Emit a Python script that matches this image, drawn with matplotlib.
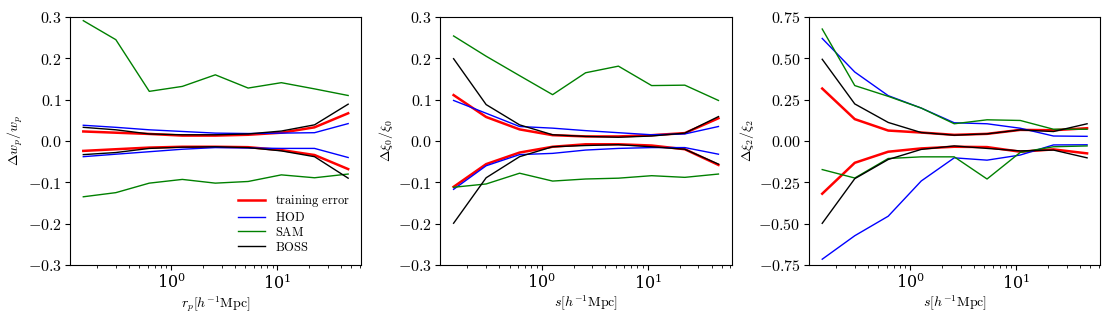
import matplotlib
matplotlib.use("Agg")
import matplotlib.pyplot as plt
from matplotlib.ticker import FuncFormatter

plt.rcParams["mathtext.fontset"] = "cm"
plt.rcParams["font.family"] = "serif"
plt.rcParams["font.serif"] = ["DejaVu Serif"]

# separation bins (h^-1 Mpc)
r = [0.148, 0.30, 0.62, 1.27, 2.6, 5.3, 10.9, 22.4, 46.5]

# panel 1: w_p
wp_train_hi = [0.023, 0.020, 0.017, 0.013, 0.013, 0.015, 0.020, 0.033, 0.067]
wp_train_lo = [-0.024, -0.020, -0.016, -0.014, -0.014, -0.015, -0.022, -0.034, -0.068]
wp_hod_hi = [0.038, 0.033, 0.027, 0.023, 0.019, 0.018, 0.019, 0.020, 0.042]
wp_hod_lo = [-0.038, -0.032, -0.026, -0.020, -0.016, -0.017, -0.018, -0.018, -0.040]
wp_sam_hi = [0.291, 0.245, 0.120, 0.132, 0.160, 0.128, 0.141, 0.126, 0.110]
wp_sam_lo = [-0.135, -0.125, -0.102, -0.093, -0.102, -0.098, -0.082, -0.089, -0.080]
wp_boss_hi = [0.033, 0.027, 0.017, 0.015, 0.015, 0.017, 0.024, 0.039, 0.089]
wp_boss_lo = [-0.033, -0.028, -0.018, -0.015, -0.014, -0.016, -0.024, -0.038, -0.090]

# panel 2: xi_0
x0_train_hi = [0.111, 0.058, 0.028, 0.014, 0.011, 0.011, 0.014, 0.019, 0.055]
x0_train_lo = [-0.111, -0.056, -0.028, -0.014, -0.008, -0.008, -0.011, -0.020, -0.058]
x0_hod_hi = [0.098, 0.067, 0.035, 0.031, 0.025, 0.020, 0.015, 0.017, 0.035]
x0_hod_lo = [-0.117, -0.060, -0.033, -0.030, -0.022, -0.018, -0.016, -0.016, -0.032]
x0_sam_hi = [0.254, 0.205, 0.158, 0.112, 0.165, 0.181, 0.134, 0.135, 0.098]
x0_sam_lo = [-0.112, -0.104, -0.078, -0.097, -0.092, -0.090, -0.084, -0.088, -0.080]
x0_boss_hi = [0.199, 0.088, 0.039, 0.015, 0.011, 0.009, 0.012, 0.019, 0.059]
x0_boss_lo = [-0.199, -0.089, -0.038, -0.014, -0.011, -0.009, -0.014, -0.020, -0.056]

# panel 3: xi_2
x2_train_hi = [0.317, 0.132, 0.063, 0.051, 0.037, 0.043, 0.067, 0.065, 0.077]
x2_train_lo = [-0.319, -0.132, -0.065, -0.045, -0.035, -0.037, -0.065, -0.051, -0.075]
x2_hod_hi = [0.620, 0.417, 0.274, 0.199, 0.110, 0.104, 0.077, 0.030, 0.028]
x2_hod_lo = [-0.715, -0.573, -0.455, -0.242, -0.102, -0.116, -0.085, -0.024, -0.023]
x2_sam_hi = [0.677, 0.335, 0.270, 0.199, 0.104, 0.128, 0.124, 0.071, 0.071]
x2_sam_lo = [-0.173, -0.224, -0.106, -0.096, -0.096, -0.230, -0.069, -0.035, -0.030]
x2_boss_hi = [0.494, 0.224, 0.112, 0.051, 0.035, 0.043, 0.067, 0.057, 0.104]
x2_boss_lo = [-0.498, -0.228, -0.112, -0.051, -0.030, -0.045, -0.060, -0.055, -0.102]

panels = [
    dict(train=(wp_train_hi, wp_train_lo), hod=(wp_hod_hi, wp_hod_lo),
         sam=(wp_sam_hi, wp_sam_lo), boss=(wp_boss_hi, wp_boss_lo),
         ylabel=r"$\Delta w_p/w_p$", xlabel=r"$r_p[h^{-1}\mathrm{Mpc}]$",
         ylim=0.3, yticks=[-0.3, -0.2, -0.1, 0.0, 0.1, 0.2, 0.3], fmt="{:.1f}"),
    dict(train=(x0_train_hi, x0_train_lo), hod=(x0_hod_hi, x0_hod_lo),
         sam=(x0_sam_hi, x0_sam_lo), boss=(x0_boss_hi, x0_boss_lo),
         ylabel=r"$\Delta\xi_0/\xi_0$", xlabel=r"$s[h^{-1}\mathrm{Mpc}]$",
         ylim=0.3, yticks=[-0.3, -0.2, -0.1, 0.0, 0.1, 0.2, 0.3], fmt="{:.1f}"),
    dict(train=(x2_train_hi, x2_train_lo), hod=(x2_hod_hi, x2_hod_lo),
         sam=(x2_sam_hi, x2_sam_lo), boss=(x2_boss_hi, x2_boss_lo),
         ylabel=r"$\Delta\xi_2/\xi_2$", xlabel=r"$s[h^{-1}\mathrm{Mpc}]$",
         ylim=0.75, yticks=[-0.75, -0.5, -0.25, 0.0, 0.25, 0.5, 0.75], fmt="{:.2f}"),
]

styles = [
    ("train", "red", 1.8, r"$\mathrm{training\ error}$"),
    ("hod", "blue", 1.0, r"$\mathrm{HOD}$"),
    ("sam", "green", 1.0, r"$\mathrm{SAM}$"),
    ("boss", "black", 1.0, r"$\mathrm{BOSS}$"),
]

fig = plt.figure(figsize=(11.12, 3.18), dpi=100)
lefts = [0.063, 0.396, 0.7275]

for i, p in enumerate(panels):
    ax = fig.add_axes([lefts[i], 0.1667, 0.262, 0.78])
    for key, color, lw, label in styles:
        hi, lo = p[key]
        ax.plot(r, hi, color=color, lw=lw, label=label)
        ax.plot(r, lo, color=color, lw=lw)
    ax.set_xscale("log")
    ax.set_ylim(-p["ylim"], p["ylim"])
    ax.set_yticks(p["yticks"])
    fmt = p["fmt"]
    ax.yaxis.set_major_formatter(FuncFormatter(lambda v, pos, f=fmt: "$" + f.format(v) + "$"))
    ax.tick_params(labelsize=11.5, pad=2.5)
    ax.set_ylabel(p["ylabel"], fontsize=10, labelpad=2)
    ax.set_xlabel(p["xlabel"], fontsize=10, labelpad=1)
    if i == 0:
        ax.legend(loc="lower right", frameon=False, fontsize=9, handlelength=2.2,
                  labelspacing=0.15, borderaxespad=0.5)

fig.savefig("out.png", dpi=100)
